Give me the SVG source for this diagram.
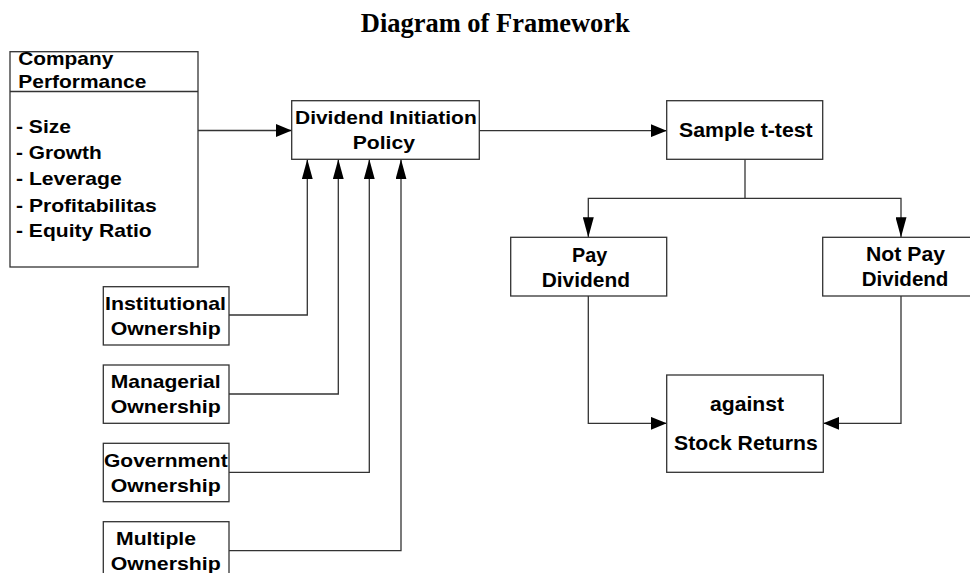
<svg xmlns="http://www.w3.org/2000/svg" width="970" height="573" viewBox="0 0 970 573">
  <style>
    .box { fill: #ffffff; stroke: #333333; stroke-width: 1.3; }
    .lbl { font-family: "Liberation Sans", Arial, Helvetica, sans-serif; font-weight: bold; font-size: 19px; fill: #000000; }
    .big { font-size: 19.8px; }
    .title { font-family: "Liberation Serif", "Times New Roman", serif; font-weight: bold; font-size: 26.5px; fill: #000000; }
    .wire { fill: none; stroke: #333333; stroke-width: 1.3; }
    .h { marker-end: url(#arrowH); }
    .v { marker-end: url(#arrowV); }
  </style>
  <defs>
    <marker id="arrowH" markerUnits="userSpaceOnUse" markerWidth="16" markerHeight="13" refX="16" refY="6.5" orient="auto">
      <path d="M0,0 L16,6.5 L0,13 z" fill="#000000"/>
    </marker>
    <marker id="arrowV" markerUnits="userSpaceOnUse" markerWidth="20" markerHeight="11" refX="20" refY="5.5" orient="auto">
      <path d="M0,0 L20,5.5 L0,11 z" fill="#000000"/>
    </marker>
  </defs>

  <rect width="970" height="573" fill="#ffffff"/>

  <text class="title" x="495.3" y="31.7" text-anchor="middle" textLength="269" lengthAdjust="spacingAndGlyphs">Diagram of Framework</text>

  <!-- Connectors -->
  <g id="connectors">
    <path class="wire h" d="M198,130.5 H291.7"/>
    <path class="wire h" d="M479.3,130.7 H666.7"/>
    <path class="wire v" d="M229,315 H307.3 V159.3"/>
    <path class="wire v" d="M229,394 H338.3 V159.3"/>
    <path class="wire v" d="M229,472.3 H369.3 V159.3"/>
    <path class="wire v" d="M229,550.7 H401 V159.3"/>
    <path class="wire" d="M745,159.3 V198.3"/>
    <path class="wire v" d="M745,198.3 H588.3 V237.3"/>
    <path class="wire v" d="M745,198.3 H901 V237.3"/>
    <path class="wire h" d="M588.3,296 V423.3 H666.7"/>
    <path class="wire h" d="M901,296 V423.3 H823.3"/>
  </g>

  <!-- Company performance -->
  <g id="company-performance">
    <rect class="box" x="10" y="51.7" width="188" height="215.3"/>
    <line x1="10" y1="91.5" x2="198" y2="91.5" stroke="#333333" stroke-width="1.3"/>
    <text class="lbl" x="18.3" y="65" textLength="95" lengthAdjust="spacingAndGlyphs">Company</text>
    <text class="lbl" x="18.3" y="88" textLength="128" lengthAdjust="spacingAndGlyphs">Performance</text>
    <text class="lbl" x="16" y="133.3" textLength="55" lengthAdjust="spacingAndGlyphs">- Size</text>
    <text class="lbl" x="16" y="159.3" textLength="85.7" lengthAdjust="spacingAndGlyphs">- Growth</text>
    <text class="lbl" x="16" y="185" textLength="105.7" lengthAdjust="spacingAndGlyphs">- Leverage</text>
    <text class="lbl" x="16" y="211.7" textLength="140.7" lengthAdjust="spacingAndGlyphs">- Profitabilitas</text>
    <text class="lbl" x="16" y="236.7" textLength="135.7" lengthAdjust="spacingAndGlyphs">- Equity Ratio</text>
  </g>

  <!-- Dividend initiation policy -->
  <g id="dividend-initiation">
    <rect class="box" x="291.7" y="100.7" width="187.6" height="58.6"/>
    <text class="lbl" x="295" y="124.3" textLength="181.7" lengthAdjust="spacingAndGlyphs">Dividend Initiation</text>
    <text class="lbl" x="352.7" y="149.3" textLength="62.3" lengthAdjust="spacingAndGlyphs">Policy</text>
  </g>

  <!-- Ownership boxes -->
  <g id="institutional">
    <rect class="box" x="103.3" y="286.7" width="125.7" height="58.3"/>
    <text class="lbl" x="105" y="310" textLength="121" lengthAdjust="spacingAndGlyphs">Institutional</text>
    <text class="lbl" x="110.7" y="334.5" textLength="110" lengthAdjust="spacingAndGlyphs">Ownership</text>
  </g>
  <g id="managerial">
    <rect class="box" x="103.3" y="365" width="125.7" height="58.3"/>
    <text class="lbl" x="110.7" y="388.3" textLength="110" lengthAdjust="spacingAndGlyphs">Managerial</text>
    <text class="lbl" x="110.7" y="413.3" textLength="110" lengthAdjust="spacingAndGlyphs">Ownership</text>
  </g>
  <g id="government">
    <rect class="box" x="103.3" y="443.3" width="125.7" height="58.4"/>
    <text class="lbl" x="104" y="466.7" textLength="123.7" lengthAdjust="spacingAndGlyphs">Government</text>
    <text class="lbl" x="110.7" y="491.7" textLength="110" lengthAdjust="spacingAndGlyphs">Ownership</text>
  </g>
  <g id="multiple">
    <rect class="box" x="103.3" y="521.7" width="125.7" height="58.3"/>
    <text class="lbl" x="116" y="545" textLength="80" lengthAdjust="spacingAndGlyphs">Multiple</text>
    <text class="lbl" x="110.7" y="570" textLength="110" lengthAdjust="spacingAndGlyphs">Ownership</text>
  </g>

  <!-- Test and outcomes -->
  <g id="sample-t-test">
    <rect class="box" x="666.7" y="100.7" width="156" height="58.6"/>
    <text class="lbl big" x="679" y="136.7" textLength="133.7" lengthAdjust="spacingAndGlyphs">Sample t-test</text>
  </g>
  <g id="pay-dividend">
    <rect class="box" x="510.7" y="237.3" width="156" height="58.7"/>
    <text class="lbl big" x="589.7" y="261.7" text-anchor="middle">Pay</text>
    <text class="lbl big" x="541.7" y="286.7" textLength="88.3" lengthAdjust="spacingAndGlyphs">Dividend</text>
  </g>
  <g id="not-pay-dividend">
    <rect class="box" x="822.7" y="237.3" width="165" height="58.7"/>
    <text class="lbl big" x="866" y="261" textLength="79" lengthAdjust="spacingAndGlyphs">Not Pay</text>
    <text class="lbl big" x="861.7" y="285.5" textLength="86.7" lengthAdjust="spacingAndGlyphs">Dividend</text>
  </g>
  <g id="stock-returns">
    <rect class="box" x="666.7" y="375" width="156.6" height="97.3"/>
    <text class="lbl big" x="710" y="410.5" textLength="74" lengthAdjust="spacingAndGlyphs">against</text>
    <text class="lbl big" x="674" y="450" textLength="143.7" lengthAdjust="spacingAndGlyphs">Stock Returns</text>
  </g>
</svg>
